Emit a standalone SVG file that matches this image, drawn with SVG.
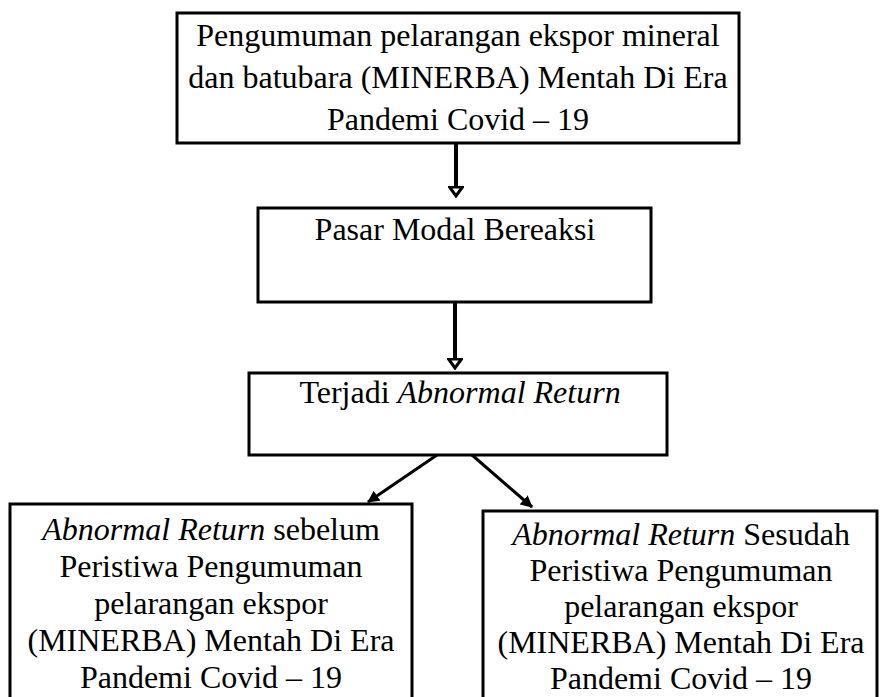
<svg xmlns="http://www.w3.org/2000/svg" width="880" height="697" viewBox="0 0 880 697">
<style>
.box{fill:#fff;stroke:#000;stroke-width:3}
.t{font-family:"Liberation Serif","Times New Roman",serif;font-size:32px;fill:#000;text-anchor:middle}
.i{font-style:italic}
.c{stroke:#000;fill:none}
</style>
<defs>
<marker id="hollow" viewBox="0 0 12 16" refX="10.5" refY="8" markerWidth="12" markerHeight="16" markerUnits="userSpaceOnUse" orient="auto">
<path d="M1.5,1.5 L10.5,8 L1.5,14.5 Z" fill="#fff" stroke="#000" stroke-width="3"/>
</marker>
<marker id="solid" viewBox="0 0 12 12" refX="11" refY="6" markerWidth="12" markerHeight="12" markerUnits="userSpaceOnUse" orient="auto">
<path d="M0,0 L12,6 L0,12 Z" fill="#000"/>
</marker>
</defs>
<rect width="880" height="697" fill="#fff"/>
<g id="n1">
<rect class="box" x="177" y="13" width="562" height="130"/>
<text class="t" x="458" y="46">Pengumuman pelarangan ekspor mineral</text>
<text class="t" x="458" y="88">dan batubara (MINERBA) Mentah Di Era</text>
<text class="t" x="458" y="130">Pandemi Covid – 19</text>
</g>
<g id="n2">
<rect class="box" x="258" y="208" width="393" height="94"/>
<text class="t" x="455" y="240">Pasar Modal Bereaksi</text>
</g>
<g id="n3">
<rect class="box" x="249" y="373" width="418" height="82"/>
<text class="t" x="460" y="403">Terjadi <tspan class="i">Abnormal Return</tspan></text>
</g>
<g id="n4">
<rect class="box" x="10" y="504" width="402" height="210"/>
<text class="t" x="211" y="540"><tspan class="i">Abnormal Return</tspan> sebelum</text>
<text class="t" x="211" y="577">Peristiwa Pengumuman</text>
<text class="t" x="211" y="614">pelarangan ekspor</text>
<text class="t" x="211" y="651">(MINERBA) Mentah Di Era</text>
<text class="t" x="211" y="688">Pandemi Covid – 19</text>
</g>
<g id="n5">
<rect class="box" x="483" y="511" width="394" height="210"/>
<text class="t" x="681" y="545"><tspan class="i">Abnormal Return</tspan> Sesudah</text>
<text class="t" x="681" y="581">Peristiwa Pengumuman</text>
<text class="t" x="681" y="617">pelarangan ekspor</text>
<text class="t" x="681" y="653">(MINERBA) Mentah Di Era</text>
<text class="t" x="681" y="689">Pandemi Covid – 19</text>
</g>
<g id="connectors">
<line class="c" x1="456" y1="143" x2="456" y2="196" stroke-width="4" marker-end="url(#hollow)"/>
<line class="c" x1="455" y1="302" x2="455" y2="368" stroke-width="4" marker-end="url(#hollow)"/>
<line class="c" x1="437" y1="455" x2="368" y2="502" stroke-width="3" marker-end="url(#solid)"/>
<line class="c" x1="472" y1="455" x2="532" y2="507" stroke-width="3" marker-end="url(#solid)"/>
</g>
</svg>
